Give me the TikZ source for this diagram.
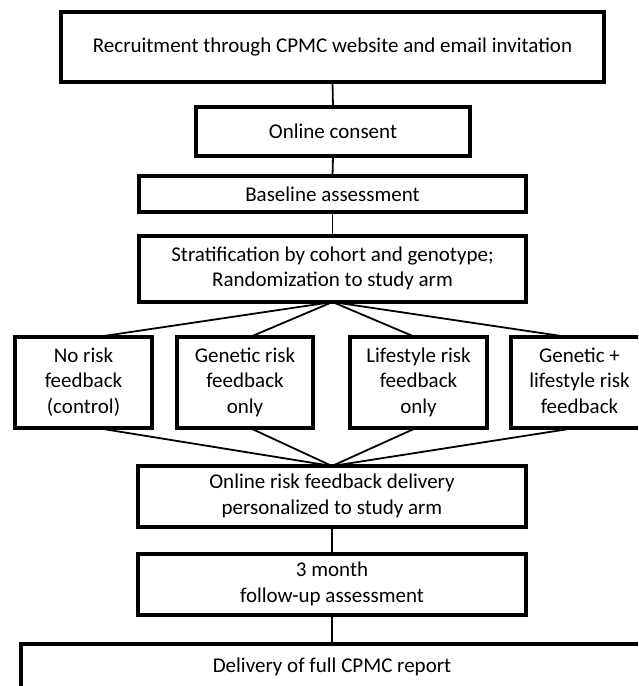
\documentclass[tikz,border=0pt]{standalone}
\usepackage{fontspec}
\setmainfont{Carlito}
\usetikzlibrary{calc}
\tikzset{
  box/.style={draw=black, line width=3.1pt, rectangle, inner sep=0pt, outer sep=0pt,
    align=center, font=\fontsize{21}{25.5}\selectfont},
  link/.style={draw=black, line width=1.8pt}
}
\begin{document}
\begin{tikzpicture}[x=1pt,y=-1pt]
\useasboundingbox (0,0) rectangle (638,686);
\clip (0,0) rectangle (638,686);
\fill[white] (0,0) rectangle (638,686);
\node[box, minimum width=543pt, minimum height=70pt] (rec) at (332.5,47) {Recruitment through CPMC website and email invitation};
\node[box, minimum width=274pt, minimum height=49pt] (cons) at (333,131.5) {Online consent};
\node[box, minimum width=387pt, minimum height=36pt] (base) at (332.5,194) {Baseline assessment};
\node[box, minimum width=387pt, minimum height=66pt] (strat) at (332.5,269) {\strut Stratification by cohort and genotype;\\Randomization to study arm\strut};
\node[box, minimum width=137pt, minimum height=91pt] (b1) at (83.5,382.5) {\strut No risk\\feedback\\(control)\strut};
\node[box, minimum width=136pt, minimum height=91pt] (b2) at (245,382.5) {\strut Genetic risk\\feedback\\only\strut};
\node[box, minimum width=137pt, minimum height=91pt] (b3) at (418.5,382.5) {\strut Lifestyle risk\\feedback\\only\strut};
\node[box, minimum width=137pt, minimum height=91pt] (b4) at (579.5,382.5) {\strut Genetic +\\lifestyle risk\\feedback\strut};
\node[box, minimum width=388pt, minimum height=61pt] (deliv) at (332,496.5) {\strut Online risk feedback delivery\\personalized to study arm\strut};
\node[box, minimum width=388pt, minimum height=61pt] (fu) at (332,584.5) {\strut 3 month\\follow-up assessment\strut};
\node[box, minimum width=622pt, minimum height=46pt] (rep) at (332,667) {Delivery of full CPMC report};
\draw[link] (rec.south) -- (cons.north);
\draw[link] (cons.south) -- (base.north);
\draw[link] (base.south) -- (strat.north);
\draw[link] (strat.south) -- ($(b1.north)+(13.5,0)$);
\draw[link] (strat.south) -- ($(b2.north)+(5,0)$);
\draw[link] (strat.south) -- ($(b3.north)+(-3.5,0)$);
\draw[link] (strat.south) -- ($(b4.north)+(-11.5,0)$);
\draw[link] ($(b1.south)+(13.5,0)$) -- (deliv.north);
\draw[link] ($(b2.south)+(5,0)$) -- (deliv.north);
\draw[link] ($(b3.south)+(-2.5,0)$) -- (deliv.north);
\draw[link] ($(b4.south)+(-4.5,0)$) -- (deliv.north);
\draw[link] (deliv.south) -- (fu.north);
\draw[link] (fu.south) -- (rep.north);
\end{tikzpicture}
\end{document}
